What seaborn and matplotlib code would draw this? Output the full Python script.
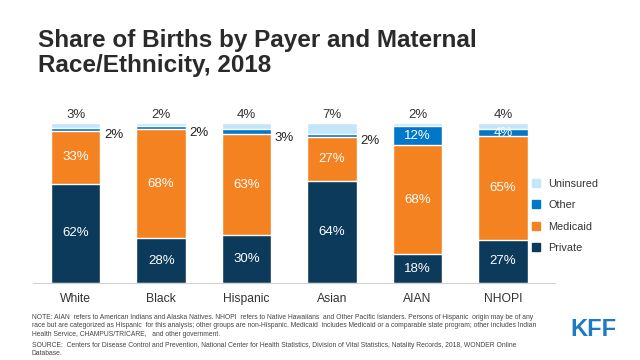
import matplotlib
matplotlib.use('Agg')
from matplotlib import pyplot as plt
from matplotlib.lines import Line2D
import numpy as np
import pandas as pd
import seaborn as sns

# Data
groups = ['White', 'Black', 'Hispanic', 'Asian', 'AIAN', 'NHOPI']
private = [62, 28, 30, 64, 18, 27]
medicaid = [33, 68, 63, 27, 68, 65]
other = [2, 2, 3, 2, 12, 4]
uninsured = [3, 2, 4, 7, 2, 4]

colors = {'Private': '#0C3A5B', 'Medicaid': '#F58220',
          'Other': '#0077C8', 'Uninsured': '#C5E5F8'}

df = pd.DataFrame({'group': groups, 'Private': private, 'Medicaid': medicaid,
                   'Other': other, 'Uninsured': uninsured})
df['c_private'] = df['Private']
df['c_medicaid'] = df['c_private'] + df['Medicaid']
df['c_other'] = df['c_medicaid'] + df['Other']
df['c_unins'] = df['c_other'] + df['Uninsured']

sns.set_style('white')
plt.rcParams['font.family'] = ['Liberation Sans', 'DejaVu Sans']

fig = plt.figure(figsize=(6.4, 3.6), dpi=100)
ax = fig.add_axes([33 / 640, 77 / 360, 522 / 640, 160 / 360])

# stacked bars: draw cumulative totals from the top down
for col, name in [('c_unins', 'Uninsured'), ('c_other', 'Other'),
                  ('c_medicaid', 'Medicaid'), ('c_private', 'Private')]:
    sns.barplot(data=df, x='group', y=col, color=colors[name], saturation=1,
                width=0.58, ax=ax, errorbar=None)

ax.set_xlim(-0.5, 5.61)
ax.set_ylim(0, 100)
ax.set_xlabel('')
ax.set_ylabel('')
ax.set_yticks([])
ax.tick_params(axis='x', length=0, labelsize=8.7, colors='#333333', pad=7)
for s in ['top', 'left', 'right']:
    ax.spines[s].set_visible(False)
ax.spines['bottom'].set_color('#D0D0D0')
ax.spines['bottom'].set_linewidth(0.8)

# value labels
fs = 9.5
for i, row in df.iterrows():
    ax.text(i, row['Private'] / 2, f"{row['Private']}%", ha='center', va='center',
            color='white', fontsize=fs)
    ax.text(i, row['c_private'] + row['Medicaid'] / 2, f"{row['Medicaid']}%",
            ha='center', va='center', color='white', fontsize=fs)
    if row['Other'] >= 4:
        ax.text(i, row['c_medicaid'] + row['Other'] / 2, f"{row['Other']}%",
                ha='center', va='center', color='white', fontsize=fs)
    else:
        ax.text(i + 0.33, row['c_medicaid'] - 2.5, f"{row['Other']}%",
                ha='left', va='center', color='#222222', fontsize=fs)
    ax.text(i, 101, f"{row['Uninsured']}%", ha='center', va='bottom',
            color='#333333', fontsize=fs, clip_on=False)

# legend
order = ['Uninsured', 'Other', 'Medicaid', 'Private']
handles = [Line2D([0], [0], marker='s', linestyle='', markersize=6,
                  markerfacecolor=colors[n], markeredgecolor=colors[n]) for n in order]
fig.legend(handles, order, loc='upper left', bbox_to_anchor=(515 / 640, 1 - 169 / 360),
           frameon=False, fontsize=7.8, handletextpad=0.2, labelspacing=1.05,
           labelcolor='#333333')

fig.text(38 / 640, 1 - 29 / 360, 'Share of Births by Payer and Maternal\nRace/Ethnicity, 2018',
         ha='left', va='top', fontsize=17.5, fontweight='heavy', color='#2a2a2a',
         linespacing=1.1)

note = ("NOTE: AIAN  refers to American Indians and Alaska Natives. NHOPI  refers to Native Hawaiians  and Other Pacific Islanders. Persons of Hispanic  origin may be of any\n"
        "race but are categorized as Hispanic  for this analysis; other groups are non-Hispanic. Medicaid  includes Medicaid or a comparable state program; other includes Indian\n"
        "Health Service, CHAMPUS/TRICARE,   and other government.")
source = ("SOURCE:  Centers for Disease Control and Prevention, National Center for Health Statistics, Division of Vital Statistics, Natality Records, 2018, WONDER Online\n"
          "Database.")
fig.text(32 / 640, 1 - 314 / 360, note, ha='left', va='top', fontsize=4.9,
         color='#444444', linespacing=1.25)
fig.text(32 / 640, 1 - 342 / 360, source, ha='left', va='top', fontsize=4.9,
         color='#444444', linespacing=1.25)
fig.text(593 / 640, 1 - 329 / 360, 'KFF', ha='center', va='center', fontsize=17,
         fontweight='bold', color='#1F7BC1',
         family=['Liberation Sans Narrow', 'Liberation Sans', 'DejaVu Sans'])

fig.savefig('out.png', dpi=100)
